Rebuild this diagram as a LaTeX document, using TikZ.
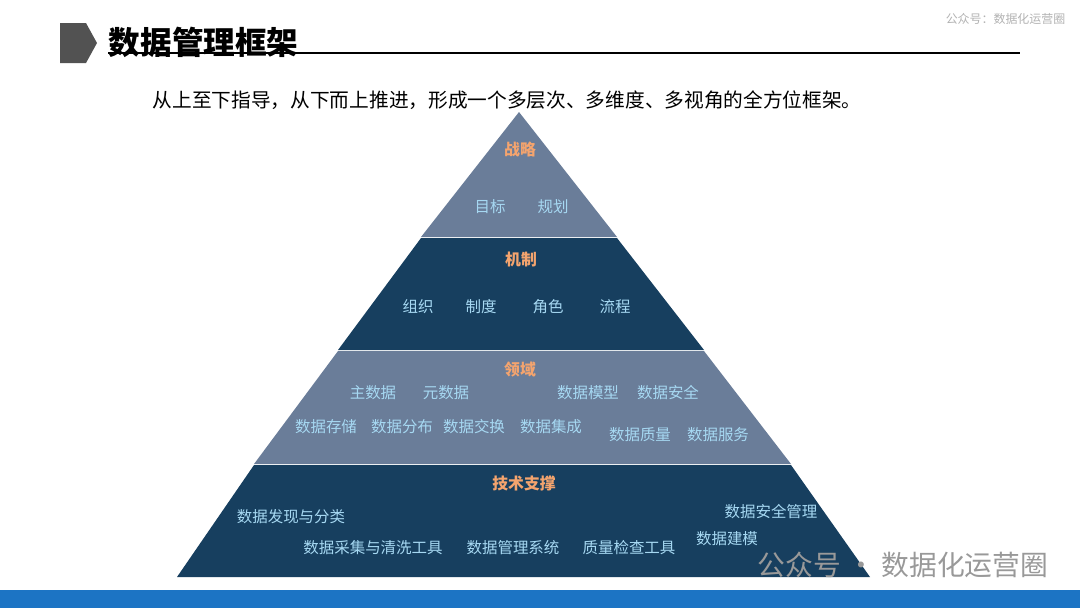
\documentclass[tikz,border=0pt]{standalone}
\usepackage{fontspec}
\newfontfamily\cjk{Noto Sans CJK SC}
\definecolor{navy}{HTML}{173F5F}
\definecolor{slate}{HTML}{6A7D99}
\definecolor{hdr}{HTML}{F4A46E}
\definecolor{itm}{HTML}{A6D8F2}
\definecolor{barblue}{HTML}{1C74C4}
\tikzset{
  head/.style={text=hdr,inner sep=0pt,font=\cjk\bfseries\fontsize{4.5}{5}\selectfont},
  item/.style={text=itm,inner sep=0pt,font=\cjk\fontsize{4.4}{5}\selectfont},
}
\begin{document}
\begin{tikzpicture}[x=0.01cm,y=-0.01cm]
    \useasboundingbox (0,0) rectangle (1080,608);
    % header
    \fill[black!68] (60,23) -- (86,23) -- (97,43) -- (86,63) -- (60,63) -- cycle;
    \node[anchor=west,inner sep=0pt,font=\cjk\bfseries\fontsize{9}{10}\selectfont] (title) at (108,42) {数据管理框架};
    \draw[line width=0.6pt] (108,53) -- (1020,53);
    \node[anchor=east,inner sep=0pt,text=black!30,font=\cjk\fontsize{3.4}{4}\selectfont] (acct) at (1066,19) {公众号：数据化运营圈};
    \node[anchor=west,inner sep=0pt,font=\cjk\fontsize{5.6}{6}\selectfont] (sub) at (152,100) {从上至下指导，从下而上推进，形成一个多层次、多维度、多视角的全方位框架。};
    % pyramid layers
    \fill[slate] (519,112) -- (617,237) -- (421,237) -- cycle;
    \fill[navy] (421,238) -- (617,238) -- (704,350) -- (338,350) -- cycle;
    \fill[slate] (338,351) -- (704,351) -- (791,464) -- (254,464) -- cycle;
    \fill[navy] (254,465) -- (791,465) -- (870,577) -- (177,577) -- cycle;
    % strategy
    \node[head] (zl) at (520,149) {战略};
    \node[item] (mb) at (490,207) {目标};
    \node[item] (gh) at (553,207) {规划};
    % mechanism
    \node[head] (jz) at (521,259) {机制};
    \node[item] (zz) at (418,307) {组织};
    \node[item] (zd) at (481,307) {制度};
    \node[item] (js) at (548,307) {角色};
    \node[item] (lc) at (615,307) {流程};
    % domain
    \node[head] (ly) at (520,370) {领域};
    \node[item] (zsj) at (373,393) {主数据};
    \node[item] (ysj) at (446,393) {元数据};
    \node[item] (mx) at (588,393) {数据模型};
    \node[item] (aq) at (668,393) {数据安全};
    \node[item] (cc) at (326,427) {数据存储};
    \node[item] (fb) at (402,427) {数据分布};
    \node[item] (jh) at (474,427) {数据交换};
    \node[item] (jc) at (551,427) {数据集成};
    \node[item] (zl2) at (640,435) {数据质量};
    \node[item] (fw) at (718,435) {数据服务};
    % technology
    \node[head] (jszc) at (524,484) {技术支撑};
    \node[item] (fx) at (291,517) {数据发现与分类};
    \node[item] (cj) at (373,548) {数据采集与清洗工具};
    \node[item] (gl) at (513,548) {数据管理系统};
    \node[item] (zj) at (629,548) {质量检查工具};
    \node[item] (aqgl) at (771,512) {数据安全管理};
    \node[item] (jm) at (727,539) {数据建模};
    % watermark and bottom bar
    \node[text=black!40,inner sep=0pt,font=\cjk\fontsize{7.9}{9}\selectfont] (wm) at (903,565) {公众号 · 数据化运营圈};
    \fill[barblue] (0,590) rectangle (1080,608);
\end{tikzpicture}
\end{document}
